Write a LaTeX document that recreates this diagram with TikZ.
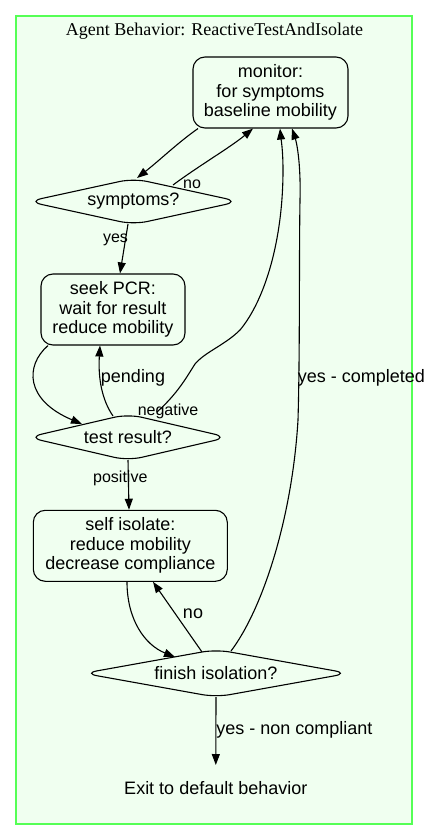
\documentclass[tikz,border=0pt]{standalone}
\usepackage{fontspec}
\setmainfont{Liberation Sans}
\newfontfamily\titlefont{Liberation Serif}
\usetikzlibrary{arrows.meta,calc}
\definecolor{clfill}{HTML}{F0FFF0}
\definecolor{clline}{HTML}{55FF55}
\newcommand\diabox[3]{%
  \draw[diaborder] ($(#1)+(-#2,0)$) -- ($(#1)+(0,-#3)$) -- ($(#1)+(#2,0)$) -- ($(#1)+(0,#3)$) -- cycle;}
\tikzset{
  big/.style={font=\fontsize{18}{19.5}\selectfont},
  small/.style={font=\fontsize{16}{18}\selectfont, inner sep=0pt},
  biglabel/.style={font=\fontsize{18}{19.5}\selectfont, inner sep=0pt},
  statebox/.style={draw, line width=1.1pt, rounded corners=12pt, align=center, inner sep=0pt,
    font=\fontsize{18}{19.5}\selectfont},
  diatext/.style={inner sep=0pt, font=\fontsize{18}{19.5}\selectfont},
  diaborder/.style={line width=1.1pt, rounded corners=14pt},
  arr/.style={line width=1.1pt, -{Triangle[length=11pt,width=8pt]}},
}
\begin{document}
\begin{tikzpicture}[x=1pt,y=-1pt]
\useasboundingbox (0,0) rectangle (432,840);
\draw[clline, fill=clfill, line width=2pt] (16,16) rectangle (412,824);
\node[font=\titlefont\fontsize{18}{20}\selectfont] (title) at (214.5,31) {Agent Behavior: ReactiveTestAndIsolate};

\node[statebox, minimum width=155pt, minimum height=71pt] (mon) at (270.5,92.5)
  {monitor:\\for symptoms\\baseline mobility};
\node[diatext] (sym) at (133.5,201.5) {symptoms?};
\diabox{sym}{105.5}{23}
\node[statebox, minimum width=144pt, minimum height=71pt] (seek) at (113,309.5)
  {seek PCR:\\wait for result\\reduce mobility};
\node[diatext] (test) at (128,437.3) {test result?};
\diabox{test}{100}{23.2}
\node[statebox, minimum width=194pt, minimum height=71pt] (self) at (130.3,545.8)
  {self isolate:\\reduce mobility\\decrease compliance};
\node[diatext] (fin) at (216,673.3) {finish isolation?};
\diabox{fin}{132.5}{23.8}
\node[big, inner sep=0pt] (exit) at (215.8,787.7) {Exit to default behavior};

% edges
\draw[arr] ([xshift=-72.5pt]mon.south) .. controls +(-20,14) and +(23,-18) .. ($(sym)+(3.5,-23.5)$);
\draw[arr] ($(sym)+(39.5,-16.5)$) .. controls +(27,-20) and +(-23,19) .. ([xshift=-17.5pt]mon.south);
\draw[arr] ($(sym)+(-5.5,22.5)$) -- ([xshift=7pt]seek.north);
\draw[arr] ([xshift=-65pt]seek.south) .. controls +(-23,20) and +(-57,-24) .. ($(test)+(-46,-13.3)$);
\draw[arr] ($(test)+(-15,-21.3)$) .. controls +(-11,-16) and +(-2,33) .. ([xshift=-13pt]seek.south);
\draw[arr] ($(test)+(29,-25.3)$) .. controls +(21,-19) and +(-9,14) .. (195,364)
   .. controls +(10,-12) and +(-15,15) .. (240,330)
   .. controls +(25,-30) and +(0,70) .. (283,170)
   .. controls +(0,-20) and +(1,10) .. ([xshift=9.5pt]mon.south);
\draw[arr] ($(test)+(0,22.7)$) -- ([xshift=-1.3pt]self.north);
\draw[arr] ([xshift=-3.3pt]self.south) .. controls +(0,38) and +(-30,-12) .. ($(fin)+(-41,-16.3)$);
\draw[arr] ($(fin)+(-14,-21.3)$) -- ([xshift=22.7pt]self.south);
\draw[arr] ($(fin)+(15,-22.3)$) .. controls +(31,-41) and +(-6,100) .. (298,420)
   .. controls +(2,-70) and +(-1,60) .. (300,200)
   .. controls +(1,-40) and +(4,12) .. ([xshift=21.5pt]mon.south);
\draw[arr] ($(fin)+(0,23.7)$) -- ($(exit)+(0,-22.7)$);

% labels
\node[small] (lno1) at (192,184) {no};
\node[small] (lyes) at (115.5,240) {yes};
\node[biglabel] (lpend) at (133,378) {pending};
\node[small] (lneg) at (168,411.5) {negative};
\node[small] (lpos) at (120.3,478.7) {positive};
\node[biglabel] (lcomp) at (361.3,378) {yes - completed};
\node[biglabel] (lno2) at (193,614) {no};
\node[biglabel] (lnon) at (294.3,730) {yes - non compliant};
\end{tikzpicture}
\end{document}
